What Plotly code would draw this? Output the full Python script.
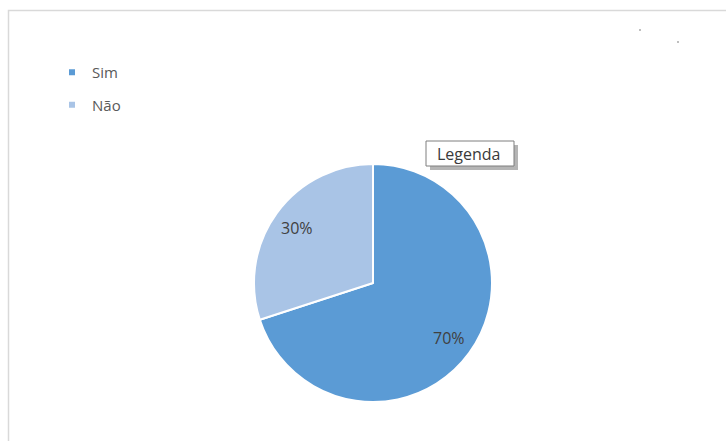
import math
import plotly.graph_objects as go

# Survey answers and their shares
labels = ["Sim", "Não"]
values = [70, 30]
colors = ["#5B9BD5", "#A9C4E6"]

W, H = 726, 441
FONT = "Segoe UI, Open Sans, Noto Sans, sans-serif"

# Pie placement in pixels
PIE_LEFT, PIE_RIGHT, PIE_TOP, PIE_BOTTOM = 254, 492, 164, 402
LABEL_RADIUS = 0.79  # fraction of the radius where the percent labels sit


def px(x):
    return x / W


def py(y):
    return 1 - y / H


fig = go.Figure()

fig.add_trace(go.Pie(
    labels=labels,
    values=values,
    sort=False,
    direction="clockwise",
    rotation=0,
    marker=dict(colors=colors, line=dict(color="white", width=2)),
    textinfo="none",
    domain=dict(x=[px(PIE_LEFT), px(PIE_RIGHT)], y=[py(PIE_BOTTOM), py(PIE_TOP)]),
    showlegend=False,
    hoverinfo="label+percent",
))

# Percent labels placed at each slice's mid-angle (clockwise from 12 o'clock)
cx = (PIE_LEFT + PIE_RIGHT) / 2
cy = (PIE_TOP + PIE_BOTTOM) / 2
radius = min(PIE_RIGHT - PIE_LEFT, PIE_BOTTOM - PIE_TOP) / 2
total = sum(values)
start = 0.0
for v in values:
    mid = (start + v / 2) / total * 2 * math.pi
    lx = cx + LABEL_RADIUS * radius * math.sin(mid)
    ly = cy - LABEL_RADIUS * radius * math.cos(mid)
    fig.add_annotation(xref="paper", yref="paper", x=px(lx), y=py(ly),
                       xanchor="center", yanchor="middle",
                       text=f"{round(100 * v / total)}%", showarrow=False,
                       font=dict(family=FONT, size=16, color="#404040"))
    start += v

# Legend entries, one group per category so they can be spaced apart
for lab, col in zip(labels, colors):
    fig.add_trace(go.Scatter(
        x=[None], y=[None], mode="markers", name=lab,
        legendgroup=lab,
        marker=dict(symbol="square", size=6, color=col),
        hoverinfo="skip",
    ))

# Chart frame
fig.add_shape(type="rect", xref="paper", yref="paper",
              x0=px(8.5), y0=py(460), x1=px(740), y1=py(10.5),
              line=dict(color="#D9D9D9", width=1.5), fillcolor="rgba(0,0,0,0)")

# Tooltip-style "Legenda" box with a soft drop shadow
fig.add_shape(type="rect", xref="paper", yref="paper",
              x0=px(430), y0=py(170), x1=px(518), y1=py(145),
              line=dict(width=0), fillcolor="rgba(120,120,120,0.55)", layer="above")
fig.add_shape(type="rect", xref="paper", yref="paper",
              x0=px(426), y0=py(166), x1=px(514), y1=py(141),
              line=dict(color="#7F7F7F", width=1), fillcolor="white", layer="above")
fig.add_annotation(xref="paper", yref="paper", x=px(469), y=py(153.5),
                   xanchor="center", yanchor="middle",
                   text="Legenda", showarrow=False,
                   font=dict(family=FONT, size=16, color="#3A3A3A"))

# Faint marks near the top-right corner
for (mx, my) in [(640, 30), (678, 42)]:
    fig.add_shape(type="rect", xref="paper", yref="paper",
                  x0=px(mx - 1), y0=py(my + 1), x1=px(mx + 1), y1=py(my - 1),
                  line=dict(width=0), fillcolor="#BFBFBF")

fig.update_layout(
    width=W, height=H,
    margin=dict(l=0, r=0, t=0, b=0),
    paper_bgcolor="white",
    plot_bgcolor="white",
    xaxis=dict(visible=False),
    yaxis=dict(visible=False),
    legend=dict(
        x=px(52), y=py(56), xanchor="left", yanchor="top",
        font=dict(family=FONT, size=15, color="#595959"),
        tracegroupgap=10,
        itemwidth=30,
        bgcolor="rgba(0,0,0,0)",
    ),
    font=dict(family=FONT),
)

fig.write_html("out.html")
